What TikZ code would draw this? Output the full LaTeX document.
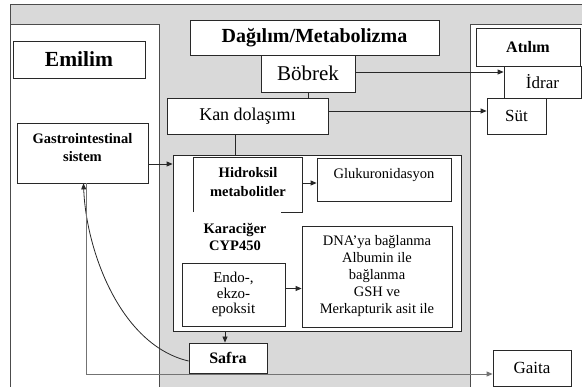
\documentclass[tikz,border=0pt]{standalone}
\usepackage{fontspec}
\setmainfont{Liberation Serif}
\usetikzlibrary{arrows.meta}
\definecolor{bggray}{RGB}{217,217,217}
\definecolor{edgec}{RGB}{40,40,40}
\begin{document}
\begin{tikzpicture}[x=1pt,y=-1pt,
  box/.style={draw=edgec, line width=0.8pt, fill=white, inner sep=0pt, align=center},
  plain/.style={inner sep=0pt, align=center},
  arr/.style={-{Triangle[length=6pt,width=5pt]}, line width=0.8pt, draw=edgec},
  ln/.style={line width=0.8pt, draw=edgec},
  glin/.style={line width=0.9pt, draw=black!55},
  panel/.style={line width=0.8pt, draw=black!70}]
\useasboundingbox (0,0) rectangle (582,387);
% background panels
\fill[bggray] (10,4) rectangle (582,387);
\draw[panel] (10,387) -- (10,4) -- (582,4);
\fill[white] (10,24) rectangle (159,387);
\draw[panel] (10,387) -- (10,24) -- (159,24) -- (159,387);
\fill[white] (470,24) rectangle (582,387);
\draw[panel] (470,387) -- (470,24) -- (582,24);

% Emilim side
\node[box, minimum width=132pt, minimum height=37pt, font=\fontsize{21.5}{24}\selectfont\bfseries] (emilim) at (79,59.5) {Emilim};
\node[box, minimum width=131pt, minimum height=60pt] (gi) at (82.5,153) {};
\node[plain, font=\fontsize{14.5}{18.5}\selectfont\bfseries] (gitext) at (82.5,147.5) {Gastrointestinal\\sistem};

% Dagilim side
\node[box, minimum width=249pt, minimum height=35pt, font=\fontsize{20}{22}\selectfont\bfseries] (dag) at (314.5,37.5) {Dağılım/Metabolizma};
\node[box, minimum width=94pt, minimum height=37pt, font=\fontsize{21}{23}\selectfont] (bobrek) at (308,73.5) {Böbrek};
\node[box, minimum width=161pt, minimum height=36pt, font=\fontsize{18}{20}\selectfont] (kan) at (247.5,116) {Kan dolaşımı};
\node[box, minimum width=288pt, minimum height=176pt] (liver) at (317,243) {};
\node[plain, minimum width=108pt, minimum height=54pt] (hidro) at (248,185) {};
\draw[ln] (hidro.south west) -- (hidro.north west) -- (hidro.north east) -- (hidro.south east) -- ++(-21,0);
\node[plain, font=\fontsize{14.5}{19}\selectfont\bfseries] (hidrotext) at (248,182) {Hidroksil\\metabolitler};
\node[box, minimum width=134pt, minimum height=43pt] (gluk) at (384,179.5) {};
\node[plain, font=\fontsize{14.5}{17}\selectfont] (gluktext) at (384,175.5) {Glukuronidasyon};
\node[plain, font=\fontsize{14.5}{17}\selectfont\bfseries] (kara) at (235,236.5) {Karaciğer\\CYP450};
\node[box, minimum width=103pt, minimum height=63pt, font=\fontsize{15}{15.5}\selectfont] (endo) at (233.5,294.5) {Endo-,\\ekzo-\\epoksit};
\node[box, minimum width=150pt, minimum height=101pt, font=\fontsize{14.5}{17}\selectfont] (dna) at (377,276.5) {DNA’ya bağlanma\\Albumin ile\\bağlanma\\GSH ve\\Merkapturik asit ile};
\node[box, minimum width=78pt, minimum height=30pt, font=\fontsize{16}{18}\selectfont\bfseries] (safra) at (228,358) {Safra};

% Atilim side
\node[box, minimum width=104pt, minimum height=38pt, font=\fontsize{16}{18}\selectfont\bfseries] (atilim) at (528,47) {Atılım};
\node[box, minimum width=77pt, minimum height=32pt, font=\fontsize{17}{19}\selectfont] (idrar) at (542.5,82) {İdrar};
\node[box, minimum width=59pt, minimum height=36pt, font=\fontsize{17}{19}\selectfont] (sut) at (516.5,116) {Süt};
\node[box, minimum width=78pt, minimum height=36pt, font=\fontsize{17}{19}\selectfont] (gaita) at (532,368) {Gaita};

% connectors
\draw[arr] ([yshift=-11pt]gi.east) -- ([yshift=-11pt]gi.east -| liver.west);
\draw[arr] ([yshift=1.5pt]bobrek.east) -- ([yshift=1.5pt]bobrek.east -| idrar.west);
\draw[arr] ([yshift=5pt]kan.east) -- ([yshift=5pt]kan.east -| sut.west);
\draw[ln] (bobrek.south) -- (bobrek.south |- kan.north);
\draw[ln] ([xshift=-12.5pt]kan.south) -- ([xshift=-12.5pt]kan.south |- liver.north);
\draw[arr] (hidro.east |- 0,183) -- (gluk.west |- 0,183);
\draw[arr] ([yshift=6pt]endo.east) -- ([yshift=6pt]endo.east -| dna.west);
\draw[arr] ([xshift=-3pt]safra.north |- liver.south) -- ([xshift=-3pt]safra.north);
\draw[arr] ([yshift=-3pt]safra.west) .. controls (120,345) and (86,250) .. ([xshift=1pt]gi.south);
\draw[glin, -{Triangle[length=6pt,width=5pt]}] ([xshift=3.5pt]gi.south) |- ([yshift=-6pt]gaita.west);
\end{tikzpicture}
\end{document}
